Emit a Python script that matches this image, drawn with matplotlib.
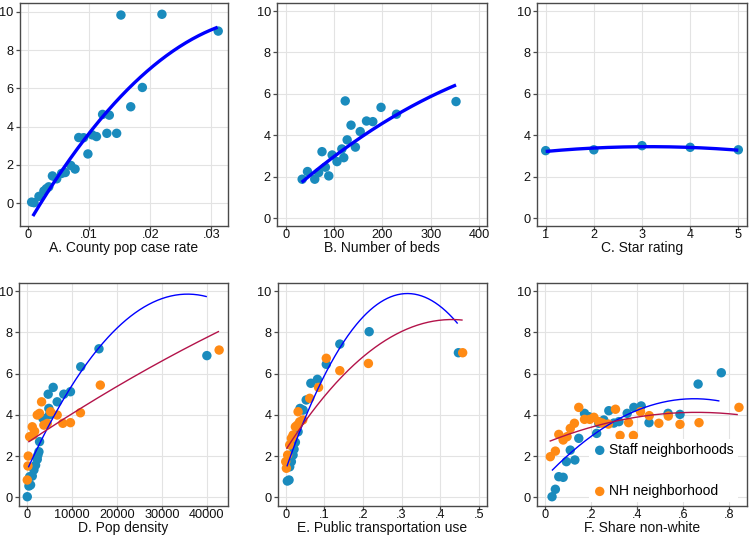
import numpy as np
import matplotlib
matplotlib.use("Agg")
import matplotlib.pyplot as plt
from matplotlib.ticker import FixedLocator, FixedFormatter

plt.rcParams['font.family'] = ['Liberation Sans', 'DejaVu Sans']

# ---------------- data ----------------
# Panel A: County pop case rate
a_x = [0.0006, 0.0010, 0.0018, 0.0026, 0.0030, 0.0034, 0.0040, 0.0047, 0.0055, 0.0061,
       0.0070, 0.0077, 0.0083, 0.0091, 0.0098, 0.0105, 0.0112, 0.0122, 0.0129, 0.0133,
       0.0145, 0.0152, 0.0168, 0.0187, 0.0219, 0.0311]
a_y = [0.05, 0.02, 0.35, 0.63, 0.75, 0.85, 1.42, 1.27, 1.55, 1.60,
       1.97, 1.78, 3.43, 3.42, 2.57, 3.57, 3.48, 4.64, 3.65, 4.60,
       3.65, 9.84, 5.04, 6.05, 9.88, 9.00]
a_fit = [-6833.0, 544.45, -1.111]     # quadratic fit coefficients (c2, c1, c0)
a_fit_range = [0.0008, 0.031]

# Panel B: Number of beds
b_x = [34, 45, 60, 68, 75, 82, 89, 96, 106, 116, 120, 123, 127, 135, 144, 154, 167, 180, 197, 229, 352]
b_y = [1.88, 2.25, 1.88, 2.20, 3.21, 2.46, 2.04, 3.05, 2.73, 3.34, 2.92, 5.66, 3.78, 4.49, 3.43,
       4.18, 4.69, 4.66, 5.35, 5.02, 5.63]
b_fit = [-1.539e-5, 0.020659, 1.0654]
b_fit_range = [33, 352]

# Panel C: Star rating
c_x = [1, 2, 3, 4, 5]
c_y = [3.26, 3.30, 3.50, 3.42, 3.30]
c_fit = [-0.05, 0.315, 2.955]
c_fit_range = [1, 5]

# Panel D: Pop density (staff = blue, NH = orange)
d_staff_x = [70, 440, 800, 600, 1180, 1550, 1920, 2290, 2430, 2660, 2800, 3540, 5000, 4870,
             4720, 5830, 6720, 8190, 9670, 11960, 16010, 40000]
d_staff_y = [0.03, 0.55, 0.60, 1.00, 1.03, 1.33, 1.56, 1.84, 2.05, 2.21, 2.70, 3.83, 4.00, 4.31,
             5.00, 5.33, 4.63, 5.00, 5.12, 6.33, 7.20, 6.87]
d_nh_x = [70, 220, 290, 590, 1330, 1180, 1700, 2290, 2800, 3250, 3760, 4500, 5240, 6720,
          7970, 9670, 11890, 16310, 42730]
d_nh_y = [0.84, 1.52, 2.00, 2.94, 3.02, 3.42, 3.20, 3.99, 4.07, 4.63, 3.50, 3.58, 4.15, 3.99,
          3.59, 3.62, 4.10, 5.44, 7.14]
d_staff_fit = [-0.0067e-6, 0.4784e-3, 1.311]
d_staff_fit_range = [300, 40000]
d_nh_fit = [-0.000446e-6, 0.1458e-3, 2.636]
d_nh_fit_range = [300, 42700]

# Panel E: Public transportation use
e_staff_x = [0.0042, 0.0086, 0.0103, 0.0146, 0.019, 0.0215, 0.025, 0.032, 0.037, 0.045, 0.053,
             0.065, 0.082, 0.105, 0.140, 0.216, 0.447]
e_staff_y = [0.79, 0.84, 1.48, 1.73, 2.05, 2.33, 2.67, 3.18, 4.31, 4.23, 4.72,
             5.53, 5.72, 6.45, 7.43, 8.03, 7.01]
e_nh_x = [0.000, 0.0017, 0.005, 0.0103, 0.0146, 0.019, 0.025, 0.030, 0.036, 0.032, 0.044,
          0.062, 0.085, 0.105, 0.140, 0.214, 0.458]
e_nh_y = [1.73, 1.41, 2.05, 2.54, 2.86, 3.02, 3.42, 3.50, 3.66, 4.15, 3.75,
          4.80, 5.33, 6.74, 6.14, 6.49, 7.01]
e_staff_fit = [-86.1, 54.24, 1.337]
e_staff_fit_range = [0.003, 0.445]
e_nh_fit = [-34.2, 29.41, 2.296]
e_nh_fit_range = [0.002, 0.458]

# Panel F: Share non-white
f_staff_x = [0.0305, 0.045, 0.060, 0.079, 0.093, 0.110, 0.130, 0.147, 0.172, 0.191, 0.225,
             0.234, 0.256, 0.278, 0.300, 0.322, 0.358, 0.387, 0.419, 0.453, 0.536, 0.588,
             0.667, 0.768]
f_staff_y = [0.03, 0.39, 1.00, 0.97, 1.73, 2.29, 1.81, 2.86, 4.07, 3.91, 3.10,
             3.59, 3.75, 4.20, 3.60, 3.67, 4.07, 4.36, 4.43, 3.62, 4.07, 4.02,
             5.49, 6.04]
f_nh_x = [0.023, 0.045, 0.060, 0.079, 0.096, 0.110, 0.128, 0.147, 0.172, 0.195, 0.213,
          0.234, 0.250, 0.276, 0.307, 0.327, 0.364, 0.385, 0.416, 0.454, 0.496, 0.537,
          0.588, 0.671, 0.845]
f_nh_y = [1.97, 2.24, 3.05, 2.78, 2.94, 3.34, 3.59, 4.36, 3.78, 3.78, 3.88,
          3.67, 3.60, 3.55, 4.27, 3.00, 3.62, 3.00, 4.15, 3.96, 3.59, 3.94,
          3.54, 3.62, 4.36]
f_staff_fit = [-9.05, 11.765, 0.956]
f_staff_fit_range = [0.03, 0.76]
f_nh_fit = [-3.42, 4.514, 2.630]
f_nh_fit_range = [0.02, 0.84]

x_labels = ["A. County pop case rate", "B. Number of beds", "C. Star rating",
            "D. Pop density", "E. Public transportation use", "F. Share non-white"]
y_ticks = [0, 2, 4, 6, 8, 10]
a_xticks = [0, 0.01, 0.02, 0.03]
a_xticklabels = ["0", ".01", ".02", ".03"]
b_xticks = [0, 100, 200, 300, 400]
c_xticks = [1, 2, 3, 4, 5]
d_xticks = [0, 10000, 20000, 30000, 40000]
e_xticks = [0, 0.1, 0.2, 0.3, 0.4, 0.5]
e_xticklabels = ["0", ".1", ".2", ".3", ".4", ".5"]
f_xticks = [0, 0.2, 0.4, 0.6, 0.8]
f_xticklabels = ["0", ".2", ".4", ".6", ".8"]
legend_labels = ["Staff neighborhoods", "NH neighborhood"]

# ---------------- style ----------------
DOT = "#1a8bbd"
ORANGE = "#ff8a14"
BLUE = "#0000ff"
RED = "#b3134a"
MS = 46

fig = plt.figure(figsize=(7.5, 5.35), dpi=100)
W, H = 750.0, 535.0
AH = 223

def make_ax(left, top, width=210, height=AH):
    return fig.add_axes([left / W, (H - top - height) / H, width / W, height / H])

axA = make_ax(20, 3, 208)
axB = make_ax(277, 3)
axC = make_ax(537, 3)
axD = make_ax(19, 283, 209)
axE = make_ax(278, 283, 209)
axF = make_ax(537, 283)

def style(ax, xticks, xlabels, xlim, ylim, label):
    ax.set_xlim(*xlim)
    ax.set_ylim(*ylim)
    ax.xaxis.set_major_locator(FixedLocator(xticks))
    if xlabels is not None:
        ax.xaxis.set_major_formatter(FixedFormatter(xlabels))
    ax.yaxis.set_major_locator(FixedLocator(y_ticks))
    ax.grid(True, color="#e3e3e3", linewidth=0.8)
    ax.set_axisbelow(True)
    for s in ax.spines.values():
        s.set_color("#4a4a4a")
        s.set_linewidth(1.0)
    ax.tick_params(direction="out", length=3, width=0.9, color="#4a4a4a",
                   labelsize=9.2, labelcolor="#111111")
    ax.tick_params(axis="x", pad=-1.0)
    ax.tick_params(axis="y", pad=1.5)
    ax.set_xlabel(label, fontsize=10, color="#111111", va="baseline")
    ax.xaxis.set_label_coords(0.5, -26.0 / AH)

def fit_line(ax, coef, rng, color, lw):
    xs = np.linspace(rng[0], rng[1], 200)
    ax.plot(xs, np.polyval(coef, xs), color=color, lw=lw, solid_capstyle="butt", zorder=4)

# A
axA.scatter(a_x, a_y, s=MS, color=DOT, edgecolors="none", zorder=3)
fit_line(axA, a_fit, a_fit_range, BLUE, 2.4)
style(axA, a_xticks, a_xticklabels, (-0.0013, 0.0327), (-1.2, 10.47), x_labels[0])

# B
axB.scatter(b_x, b_y, s=MS, color=DOT, edgecolors="none", zorder=3)
fit_line(axB, b_fit, b_fit_range, BLUE, 2.4)
style(axB, b_xticks, None, (-18, 416), (-0.38, 10.39), x_labels[1])

# C
axC.scatter(c_x, c_y, s=MS, color=DOT, edgecolors="none", zorder=3)
fit_line(axC, c_fit, c_fit_range, BLUE, 2.4)
style(axC, c_xticks, None, (0.82, 5.18), (-0.38, 10.39), x_labels[2])

# D
axD.scatter(d_staff_x, d_staff_y, s=MS, color=DOT, edgecolors="none", zorder=3)
axD.scatter(d_nh_x, d_nh_y, s=MS, color=ORANGE, edgecolors="none", zorder=3)
fit_line(axD, d_staff_fit, d_staff_fit_range, BLUE, 1.0)
fit_line(axD, d_nh_fit, d_nh_fit_range, RED, 1.0)
style(axD, d_xticks, None, (-1770, 44700), (-0.42, 10.39), x_labels[3])

# E
axE.scatter(e_staff_x, e_staff_y, s=MS, color=DOT, edgecolors="none", zorder=3)
axE.scatter(e_nh_x, e_nh_y, s=MS, color=ORANGE, edgecolors="none", zorder=3)
fit_line(axE, e_staff_fit, e_staff_fit_range, BLUE, 1.0)
fit_line(axE, e_nh_fit, e_nh_fit_range, RED, 1.0)
style(axE, e_xticks, e_xticklabels, (-0.02, 0.521), (-0.42, 10.39), x_labels[4])

# F
h1 = axF.scatter(f_staff_x, f_staff_y, s=MS, color=DOT, edgecolors="none", zorder=3)
h2 = axF.scatter(f_nh_x, f_nh_y, s=MS, color=ORANGE, edgecolors="none", zorder=3)
fit_line(axF, f_staff_fit, f_staff_fit_range, BLUE, 1.0)
fit_line(axF, f_nh_fit, f_nh_fit_range, RED, 1.0)
style(axF, f_xticks, f_xticklabels, (-0.035, 0.88), (-0.42, 10.39), x_labels[5])
leg = axF.legend([h1, h2], legend_labels, loc="lower right",
                 bbox_to_anchor=(0.955, 0.017), frameon=True, fancybox=False,
                 edgecolor="none", facecolor="white", framealpha=1.0,
                 fontsize=10, handletextpad=0.15, labelspacing=1.95,
                 borderpad=0.3, handlelength=1.0, borderaxespad=0)
leg.set_zorder(10)

fig.savefig("out.png", dpi=100, facecolor="white")
